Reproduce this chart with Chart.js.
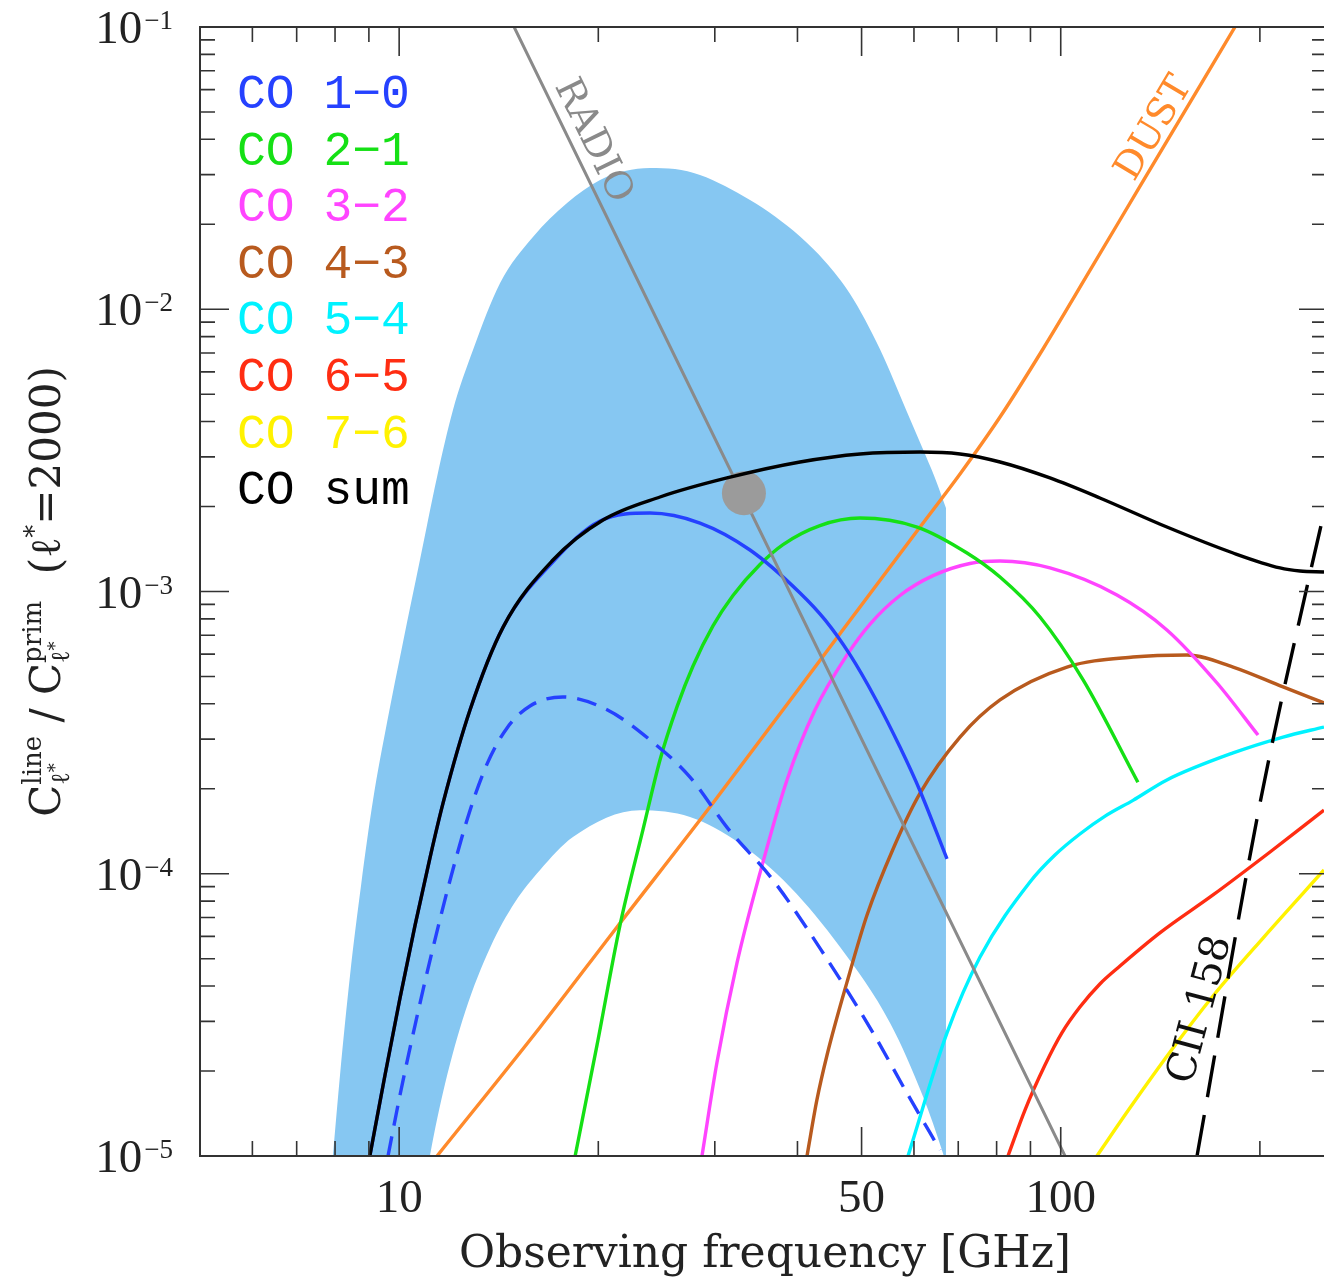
<!DOCTYPE html>
<html>
<head>
<meta charset="utf-8">
<script src="https://cdn.jsdelivr.net/npm/chart.js@4.4.1/dist/chart.umd.min.js"></script>
<style>
  html, body { margin: 0; padding: 0; background: #fff; overflow: hidden; }
  canvas { display: block; }
</style>
</head>
<body>
<canvas id="coChart" width="1324" height="1283"></canvas>
<script>
// C_l^line / C_l^prim at l* = 2000 against observing frequency (GHz)
const sumFreq = [9.03, 9.52, 10.03, 10.57, 11.13, 11.65, 12.80, 14.36, 17.08, 20.33, 24.79, 31.30, 40.36, 49.73, 61.29, 70.43, 80.95, 96.32, 114.6, 144.7, 182.2, 214.5, 229.9, 250];
const sumVal = [1.0e-5, 1.936e-5, 3.63e-5, 6.58e-5, 1.137e-4, 1.78e-4, 3.81e-4, 7.48e-4, 1.293e-3, 1.792e-3, 2.162e-3, 2.525e-3, 2.876e-3, 3.07e-3, 3.12e-3, 3.07e-3, 2.876e-3, 2.525e-3, 2.145e-3, 1.692e-3, 1.369e-3, 1.212e-3, 1.182e-3, 1.173e-3];

const co10Freq = [9.03, 9.52, 10.03, 10.57, 11.13, 11.65, 12.80, 14.36, 17.08, 20.12, 23.94, 28.49, 33.91, 40.36, 44.03, 48.04, 52.4, 57.15, 61.29, 67.31];
const co10Val = [1.0e-5, 1.936e-5, 3.63e-5, 6.58e-5, 1.137e-4, 1.78e-4, 3.81e-4, 7.48e-4, 1.273e-3, 1.778e-3, 1.897e-3, 1.748e-3, 1.403e-3, 9.88e-4, 7.93e-4, 5.96e-4, 4.195e-4, 2.81e-4, 1.964e-4, 1.128e-4];

// dashed CO 1-0 variant
const co10bFreq = [9.62, 10.03, 10.57, 11.21, 11.94, 12.80, 13.58, 14.55, 15.77, 17.68, 20.62, 23.94, 27.52, 31.30, 36.73, 43.73, 52.04, 58.56, 65.70];
const co10bVal = [1.0e-5, 1.645e-5, 2.91e-5, 5.28e-5, 9.50e-5, 1.68e-4, 2.45e-4, 3.28e-4, 3.93e-4, 4.23e-4, 3.81e-4, 2.98e-4, 2.20e-4, 1.46e-4, 9.50e-5, 5.24e-5, 2.73e-5, 1.67e-5, 1.05e-5];

const co21Freq = [18.45, 19.91, 21.57, 23.36, 24.79, 26.30, 27.81, 29.81, 31.96, 35.11, 38.04, 43.26, 49.73, 60.66, 72.17, 80.95, 93.03, 108.1, 130.8];
const co21Val = [1.0e-5, 2.47e-5, 6.58e-5, 1.43e-4, 2.53e-4, 3.90e-4, 5.445e-4, 7.55e-4, 9.68e-4, 1.247e-3, 1.467e-3, 1.713e-3, 1.821e-3, 1.692e-3, 1.369e-3, 1.125e-3, 8.12e-4, 4.86e-4, 2.11e-4];

const co32Freq = [28.69, 30.22, 32.41, 35.11, 38.57, 42.53, 47.53, 51.5, 57.15, 64.11, 72.9, 80.95, 96.32, 121.6, 144.7, 172.3, 198.7];
const co32Val = [1.0e-5, 2.14e-5, 4.83e-5, 1.006e-4, 2.15e-4, 3.81e-4, 5.96e-4, 7.67e-4, 9.68e-4, 1.138e-3, 1.257e-3, 1.282e-3, 1.212e-3, 9.72e-4, 7.31e-4, 4.74e-4, 3.10e-4];

const co43Freq = [41.35, 42.8, 44.34, 47.53, 50.96, 55.79, 61.29, 70.43, 80.95, 102.2, 128.6, 155.2, 182.2, 216.8, 250];
const co43Val = [1.0e-5, 1.58e-5, 2.28e-5, 4.13e-5, 7.14e-5, 1.224e-4, 1.93e-4, 3.05e-4, 4.13e-4, 5.40e-4, 5.86e-4, 5.96e-4, 5.40e-4, 4.59e-4, 4.03e-4];

const co54Freq = [58.77, 67.31, 75.51, 89.85, 98.0, 106.9, 116.7, 128.6, 144.7, 182.2, 216.8, 250];
const co54Val = [1.0e-5, 2.73e-5, 5.07e-5, 9.35e-5, 1.165e-4, 1.383e-4, 1.60e-4, 1.82e-4, 2.15e-4, 2.68e-4, 3.05e-4, 3.31e-4];

const co65Freq = [83.23, 88.3, 94.67, 100.4, 106.9, 114.6, 122.9, 141.2, 169.9, 207.2, 250];
const co65Val = [1.0e-5, 1.455e-5, 2.10e-5, 2.73e-5, 3.37e-5, 4.07e-5, 4.71e-5, 6.17e-5, 8.41e-5, 1.194e-4, 1.68e-4];

const co76Freq = [113.4, 127.2, 146.3, 169.9, 202.2, 250];
const co76Val = [1.0e-5, 1.479e-5, 2.336e-5, 3.69e-5, 5.92e-5, 1.031e-4];

const dustFreq = [11.41, 16.33, 21.35, 29.81, 45.27, 61.29, 70.43, 80.95, 94.01, 110.7, 131.8, 183.4];
const dustVal = [1.0e-5, 2.86e-5, 6.48e-5, 1.78e-4, 6.57e-4, 1.692e-3, 2.608e-3, 4.15e-3, 7.23e-3, 1.372e-2, 2.73e-2, 0.1];

const radioFreq = [14.92, 101.5];
const radioVal = [0.1, 1.0e-5];

const ciiFreq = [160.7, 200.1, 238.2, 250];
const ciiVal = [1.0e-5, 1.78e-4, 1.163e-3, 1.9e-3];

const dotFreq = [33.2];
const dotVal = [2.23e-3];

// shaded band: upper and lower edge (the lower edge runs below the plot at both ends)
const bandHiFreq = [7.94, 8.14, 8.43, 8.76, 9.13, 9.59, 10.13, 10.75, 11.41, 12.06, 12.93, 14.21, 15.93, 17.94, 20.12, 21.95, 23.94, 26.12, 28.49, 31.08, 33.91, 37.0, 40.36, 44.03, 48.04, 53.33, 58.56, 61.7, 64.55, 67.07];
const bandHiVal = [1.0e-5, 1.936e-5, 4.377e-5, 9.12e-5, 1.82e-4, 3.448e-4, 6.57e-4, 1.293e-3, 2.545e-3, 4.395e-3, 7.17e-3, 1.239e-2, 1.803e-2, 2.379e-2, 2.87e-2, 3.09e-2, 3.166e-2, 3.14e-2, 2.99e-2, 2.733e-2, 2.438e-2, 2.131e-2, 1.810e-2, 1.476e-2, 1.132e-2, 7.20e-3, 4.325e-3, 3.25e-3, 2.525e-3, 1.976e-3];
const bandLoFreq = [7.86, 10.03, 10.57, 11.13, 11.73, 12.58, 13.74, 14.97, 16.33, 18.31, 23.12, 27.52, 32.75, 38.98, 46.39, 55.21, 61.94, 66.39, 69.2, 74.2];
const bandLoVal = [3.7e-7, 2.23e-6, 4.65e-6, 1.0e-5, 1.799e-5, 3.24e-5, 5.50e-5, 7.94e-5, 1.031e-4, 1.35e-4, 1.68e-4, 1.59e-4, 1.28e-4, 8.98e-5, 5.50e-5, 2.96e-5, 1.62e-5, 1.02e-5, 7.3e-6, 3.79e-6];

// axis ticks
const xTicks = [6, 7, 8, 9, 10, 20, 30, 40, 50, 60, 70, 80, 90, 100, 200];
const xLabels = [10, 50, 100];
const yExponents = [-5, -4, -3, -2, -1];

const legendLabels = ["CO 1\u22120", "CO 2\u22121", "CO 3\u22122", "CO 4\u22123", "CO 5\u22124", "CO 6\u22125", "CO 7\u22126", "CO sum"];
const colors = ["#2541ff", "#15e015", "#ff44ff", "#b85a1e", "#00f2ff", "#ff2d12", "#fff200", "#000000"];

const serif = '"DejaVu Serif", "Liberation Serif", serif';
const thinSerif = '"Liberation Serif", "DejaVu Serif", serif';
const mono = '"Liberation Mono", "DejaVu Sans Mono", monospace';

function pts(xs, ys) {
  return xs.map((x, i) => ({ x: x, y: ys[i] }));
}

function curve(label, xs, ys, color, extra) {
  return Object.assign(
    {
      label: label,
      data: pts(xs, ys),
      borderColor: color,
      borderWidth: 3.4,
      pointRadius: 0,
      fill: false,
      cubicInterpolationMode: "monotone",
    },
    extra || {}
  );
}

function drawAlong(ctx, text, px, py, angle, offset, color, font) {
  const ux = Math.sin(angle), uy = -Math.cos(angle); // glyph "up" after rotation
  ctx.save();
  ctx.translate(px + ux * offset, py + uy * offset);
  ctx.rotate(angle);
  ctx.fillStyle = color;
  ctx.font = font;
  ctx.textAlign = "left";
  ctx.textBaseline = "alphabetic";
  ctx.fillText(text, 0, 0);
  ctx.restore();
}

const decorations = {
  id: "decorations",
  afterDatasetsDraw(chart) {
    const ctx = chart.ctx;
    const a = chart.chartArea;
    const xs = chart.scales.x, ys = chart.scales.y;
    ctx.save();

    // frame (right side is cut off in the original)
    ctx.strokeStyle = "#333";
    ctx.lineWidth = 2;
    ctx.beginPath();
    ctx.moveTo(a.right + 2, a.top);
    ctx.lineTo(a.left, a.top);
    ctx.lineTo(a.left, a.bottom);
    ctx.lineTo(a.right + 2, a.bottom);
    ctx.stroke();

    ctx.lineWidth = 1.6;
    ctx.beginPath();
    xTicks.forEach((v) => {
      const px = xs.getPixelForValue(v);
      const len = xLabels.includes(v) ? 29 : 15;
      ctx.moveTo(px, a.bottom); ctx.lineTo(px, a.bottom - len);
      ctx.moveTo(px, a.top); ctx.lineTo(px, a.top + len);
    });
    yExponents.forEach((e) => {
      const py = ys.getPixelForValue(Math.pow(10, e));
      ctx.moveTo(a.left, py); ctx.lineTo(a.left + 29, py);
      ctx.moveTo(a.right, py); ctx.lineTo(a.right - 25, py);
      if (e < -1) {
        for (let m = 2; m <= 9; m++) {
          const pm = ys.getPixelForValue(m * Math.pow(10, e));
          ctx.moveTo(a.left, pm); ctx.lineTo(a.left + 15, pm);
          ctx.moveTo(a.right, pm); ctx.lineTo(a.right - 12, pm);
        }
      }
    });
    ctx.stroke();

    // tick labels
    ctx.fillStyle = "#222";
    ctx.textBaseline = "alphabetic";
    ctx.font = "47px " + thinSerif;
    ctx.textAlign = "center";
    xLabels.forEach((v) => {
      ctx.fillText(String(v), xs.getPixelForValue(v), a.bottom + 56);
    });
    yExponents.forEach((e) => {
      const py = ys.getPixelForValue(Math.pow(10, e));
      ctx.font = "27px " + thinSerif;
      const sup = "\u2212" + Math.abs(e);
      const sw = ctx.measureText(sup).width;
      ctx.textAlign = "left";
      ctx.fillText(sup, 173 - sw, py + 2);
      ctx.font = "47px " + thinSerif;
      ctx.textAlign = "right";
      ctx.fillText("10", 171 - sw, py + 16);
    });

    // x title
    ctx.font = "44px " + serif;
    ctx.textAlign = "center";
    ctx.fillText("Observing frequency [GHz]", 765, 1267);

    // y title, rotated
    const big = "42px " + serif, small = "26px " + serif, tiny = "18px " + serif;
    const w = (t, f) => { ctx.font = f; return ctx.measureText(t).width; };
    const starW = w("\u2113", small) + w("*", tiny);
    const parts1 = w("C", big) + Math.max(w("line", small), starW);
    const parts2 = w(" / ", big);
    const parts3 = w("C", big) + Math.max(w("prim", small), starW);
    const parts4 = w("  (", big) + w("\u2113", big) + w("*", small) + w("=2000)", big);
    ctx.save();
    ctx.translate(60, (a.top + a.bottom) / 2);
    ctx.rotate(-Math.PI / 2);
    ctx.textAlign = "left";
    let x = -(parts1 + parts2 + parts3 + parts4) / 2;
    const put = (t, f, dy) => { ctx.font = f; ctx.fillText(t, x, dy); return ctx.measureText(t).width; };
    const scriptPair = (supText) => {
      const x0 = x;
      const ws = put(supText, small, -19);
      x += put("\u2113", small, 9);
      x += put("*", tiny, 1);
      x = x0 + Math.max(ws, starW);
    };
    x += put("C", big, 0);
    scriptPair("line");
    x += put(" / ", big, 0);
    x += put("C", big, 0);
    scriptPair("prim");
    x += put("  (", big, 0);
    x += put("\u2113", big, 0);
    x += put("*", small, -17);
    x += put("=2000)", big, 0);
    ctx.restore();

    // legend
    ctx.font = "48px " + mono;
    ctx.textAlign = "left";
    legendLabels.forEach((t, i) => {
      ctx.fillStyle = colors[i];
      ctx.fillText(t, 237, 108 + i * 56.6);
    });

    // labels along curves
    const radioAng = Math.atan2(
      ys.getPixelForValue(radioVal[1]) - ys.getPixelForValue(radioVal[0]),
      xs.getPixelForValue(radioFreq[1]) - xs.getPixelForValue(radioFreq[0])
    );
    drawAlong(ctx, "RADIO", xs.getPixelForValue(16.65), ys.getPixelForValue(0.0598), radioAng, 10, "#8a8a8a", "38px " + serif);
    const dustAng = Math.atan2(
      ys.getPixelForValue(dustVal[11]) - ys.getPixelForValue(dustVal[8]),
      xs.getPixelForValue(dustFreq[11]) - xs.getPixelForValue(dustFreq[8])
    );
    drawAlong(ctx, "DUST", xs.getPixelForValue(131.8), ys.getPixelForValue(0.0273), dustAng, 7, "#ff8a2b", "38px " + serif);
    drawAlong(ctx, "CII 158", xs.getPixelForValue(167.5), ys.getPixelForValue(1.71e-5), -75 * Math.PI / 180, 18, "#111", "40px " + serif);

    ctx.restore();
  },
};

const datasets = [
  curve("CO sum", sumFreq, sumVal, colors[7], { order: 0 }),
  {
    label: "marker",
    data: pts(dotFreq, dotVal),
    showLine: false,
    pointRadius: 22,
    pointBackgroundColor: "#9b9b9b",
    pointBorderWidth: 0,
    order: 1,
  },
  curve("RADIO", radioFreq, radioVal, "#8a8a8a", { borderWidth: 3, order: 2 }),
  curve("CII 158", ciiFreq, ciiVal, "#000", { borderDash: [42, 18], order: 3 }),
  curve("CO 1-0", co10Freq, co10Val, colors[0], { order: 4 }),
  curve("CO 1-0 (alt)", co10bFreq, co10bVal, colors[0], { borderDash: [20, 11], order: 4 }),
  curve("CO 2-1", co21Freq, co21Val, colors[1], { order: 5 }),
  curve("CO 3-2", co32Freq, co32Val, colors[2], { order: 5 }),
  curve("CO 4-3", co43Freq, co43Val, colors[3], { order: 5 }),
  curve("CO 5-4", co54Freq, co54Val, colors[4], { order: 5 }),
  curve("CO 6-5", co65Freq, co65Val, colors[5], { order: 5 }),
  curve("CO 7-6", co76Freq, co76Val, colors[6], { order: 5 }),
  curve("DUST", dustFreq, dustVal, "#ff8a2b", { order: 6 }),
  curve("band", bandHiFreq, bandHiVal, "transparent", { borderWidth: 0, fill: "+1", backgroundColor: "#86c7f2", order: 20 }),
  curve("band low", bandLoFreq, bandLoVal, "transparent", { borderWidth: 0, order: 21 }),
];

const ctx = document.getElementById("coChart").getContext("2d");
new Chart(ctx, {
  type: "line",
  data: { datasets: datasets },
  options: {
    responsive: false,
    animation: false,
    events: [],
    layout: { autoPadding: false, padding: { left: 200, top: 27, right: 0, bottom: 127 } },
    elements: {
      point: { radius: 0, hoverRadius: 0 },
      line: { capBezierPoints: false },
    },
    scales: {
      x: { type: "logarithmic", min: 5, max: 250, display: false },
      y: { type: "logarithmic", min: 1e-5, max: 0.1, display: false },
    },
    plugins: {
      legend: { display: false },
      tooltip: { enabled: false },
      filler: { drawTime: "beforeDatasetsDraw" },
    },
  },
  plugins: [decorations],
});
</script>
</body>
</html>
